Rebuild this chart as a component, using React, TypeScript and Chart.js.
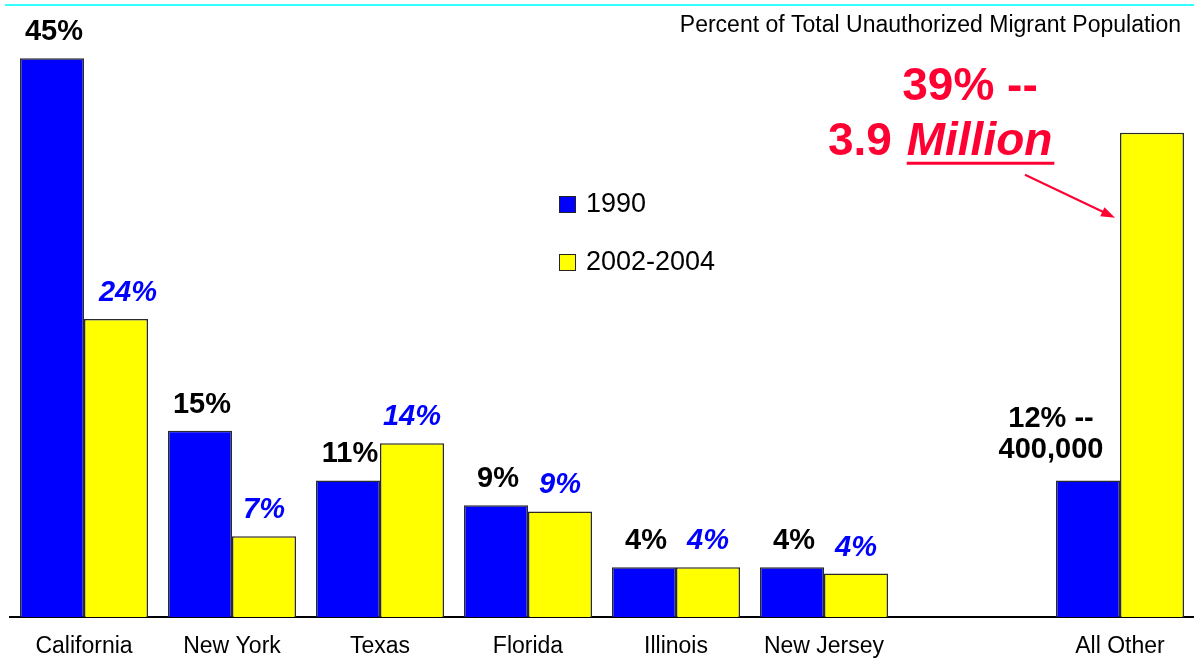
import { useEffect, useRef } from "react";
import { Chart, registerables } from "chart.js";

Chart.register(...registerables);

const categories = ["California", "New York", "Texas", "Florida", "Illinois", "New Jersey", "", "All Other"];
const seriesNames = ["1990", "2002-2004"];
const values1990 = [45, 15, 11, 9, 4, 4, null, 11];
const values2004 = [24, 6.5, 14, 8.5, 4, 3.5, null, 39];
const labels1990 = ["45%", "15%", "11%", "9%", "4%", "4%", "", ""];
const labels2004 = ["24%", "7%", "14%", "9%", "4%", "4%", "", ""];
const otherLabel1990 = ["12% --", "400,000"];
const otherLabel2004 = ["39% --", "3.9", "Million"];
const titleText = "Percent of Total Unauthorized Migrant Population";
const yMax = 48;

const FONT = '"Liberation Sans", Arial, Helvetica, sans-serif';
const BLUE = "#0000FF";
const YELLOW = "#FFFF00";
const RED = "#FF0033";

const overlayPlugin = {
  id: "overlay",
  afterDatasetsDraw(chart: any) {
    const ctx: CanvasRenderingContext2D = chart.ctx;
    ctx.save();

    // top cyan rule
    ctx.strokeStyle = "#33FFFF";
    ctx.lineWidth = 2;
    ctx.beginPath();
    ctx.moveTo(5, 5);
    ctx.lineTo(chart.width, 5);
    ctx.stroke();

    // title
    ctx.fillStyle = "#000";
    ctx.font = `23px ${FONT}`;
    ctx.textAlign = "right";
    ctx.textBaseline = "alphabetic";
    ctx.fillText(titleText, 1181, 32);

    const m0 = chart.getDatasetMeta(0);
    const m1 = chart.getDatasetMeta(1);

    // data labels
    ctx.textAlign = "center";
    ctx.font = `bold 29px ${FONT}`;
    ctx.fillStyle = "#000";
    labels1990.forEach((t, i) => {
      const b = m0.data[i];
      if (!t || !b || !isFinite(b.y)) return;
      ctx.fillText(t, b.x + 2, b.y - 18);
    });
    ctx.font = `italic bold 29px ${FONT}`;
    ctx.fillStyle = BLUE;
    labels2004.forEach((t, i) => {
      const b = m1.data[i];
      if (!t || !b || !isFinite(b.y)) return;
      ctx.fillText(t, b.x + (i === 0 ? 12 : 0), b.y - 18);
    });

    // All Other 1990 callout
    const bo = m0.data[7];
    ctx.font = `bold 29px ${FONT}`;
    ctx.fillStyle = "#000";
    ctx.fillText(otherLabel1990[0], bo.x - 37, bo.y - 53);
    ctx.fillText(otherLabel1990[1], bo.x - 37, bo.y - 22);

    // All Other 2002-2004 callout
    const by = m1.data[7];
    ctx.fillStyle = RED;
    ctx.font = `bold 46px ${FONT}`;
    ctx.fillText(otherLabel2004[0], by.x - 182, by.y - 33);
    ctx.textAlign = "left";
    const l2x = by.x - 324;
    const l2y = by.y + 22;
    ctx.fillText(otherLabel2004[1], l2x, l2y);
    const w1 = ctx.measureText(otherLabel2004[1] + " ").width;
    ctx.font = `italic bold 46px ${FONT}`;
    const mx = l2x + w1 + 2;
    ctx.fillText(otherLabel2004[2], mx, l2y);
    const w2 = ctx.measureText(otherLabel2004[2]).width;
    ctx.fillRect(mx, by.y + 29, w2 + 2, 3);

    // arrow
    const ax0 = by.x - 127, ay0 = by.y + 42;
    const ax1 = by.x - 37, ay1 = by.y + 85;
    ctx.strokeStyle = RED;
    ctx.lineWidth = 2;
    ctx.beginPath();
    ctx.moveTo(ax0, ay0);
    ctx.lineTo(ax1 - 8, ay1 - 4);
    ctx.stroke();
    const ang = Math.atan2(ay1 - ay0, ax1 - ax0);
    ctx.beginPath();
    ctx.moveTo(ax1, ay1);
    ctx.lineTo(ax1 - 14 * Math.cos(ang) + 5 * Math.sin(ang), ay1 - 14 * Math.sin(ang) - 5 * Math.cos(ang));
    ctx.lineTo(ax1 - 14 * Math.cos(ang) - 5 * Math.sin(ang), ay1 - 14 * Math.sin(ang) + 5 * Math.cos(ang));
    ctx.closePath();
    ctx.fill();

    // legend
    const ly = [196, 254];
    chart.data.datasets.forEach((ds: any, i: number) => {
      const y = ly[i];
      ctx.fillStyle = ds.backgroundColor;
      ctx.fillRect(559, y, 16, 16);
      ctx.strokeStyle = "#222";
      ctx.lineWidth = 1;
      ctx.strokeRect(559.5, y + 0.5, 16, 16);
      ctx.fillStyle = "#000";
      ctx.font = `27px ${FONT}`;
      ctx.textAlign = "left";
      ctx.fillText(ds.label, 586, y + 16);
    });

    ctx.restore();
  },
};

export default function App() {
  const ref = useRef<HTMLCanvasElement | null>(null);

  useEffect(() => {
    if (!ref.current) return;
    const chart = new Chart(ref.current, {
      type: "bar",
      data: {
        labels: categories,
        datasets: [
          {
            label: seriesNames[0],
            data: values1990,
            backgroundColor: BLUE,
            borderColor: "#2a2a2a",
            borderWidth: 1.5,
            categoryPercentage: 0.865,
            barPercentage: 1,
          },
          {
            label: seriesNames[1],
            data: values2004,
            backgroundColor: YELLOW,
            borderColor: "#2a2a2a",
            borderWidth: 1.5,
            categoryPercentage: 0.865,
            barPercentage: 1,
          },
        ],
      },
      options: {
        responsive: false,
        animation: false,
        layout: { padding: { left: 10, right: 0, top: 21, bottom: 0 } },
        plugins: {
          legend: { display: false },
          tooltip: { enabled: false },
        },
        scales: {
          x: {
            grid: { display: false, drawTicks: false },
            border: { display: true, color: "#000", width: 2 },
            ticks: {
              color: "#000",
              font: { family: FONT, size: 23 },
              padding: 16,
              maxRotation: 0,
              autoSkip: false,
            },
            afterFit: (scale: any) => {
              scale.height = 41;
            },
          },
          y: {
            display: false,
            min: 0,
            max: yMax,
          },
        },
      },
      plugins: [overlayPlugin],
    });
    return () => chart.destroy();
  }, []);

  return (
    <div style={{ position: "fixed", left: 0, top: 0, width: 1194, height: 658, background: "#fff" }}>
      <canvas ref={ref} width={1194} height={658} style={{ display: "block" }} />
    </div>
  );
}
